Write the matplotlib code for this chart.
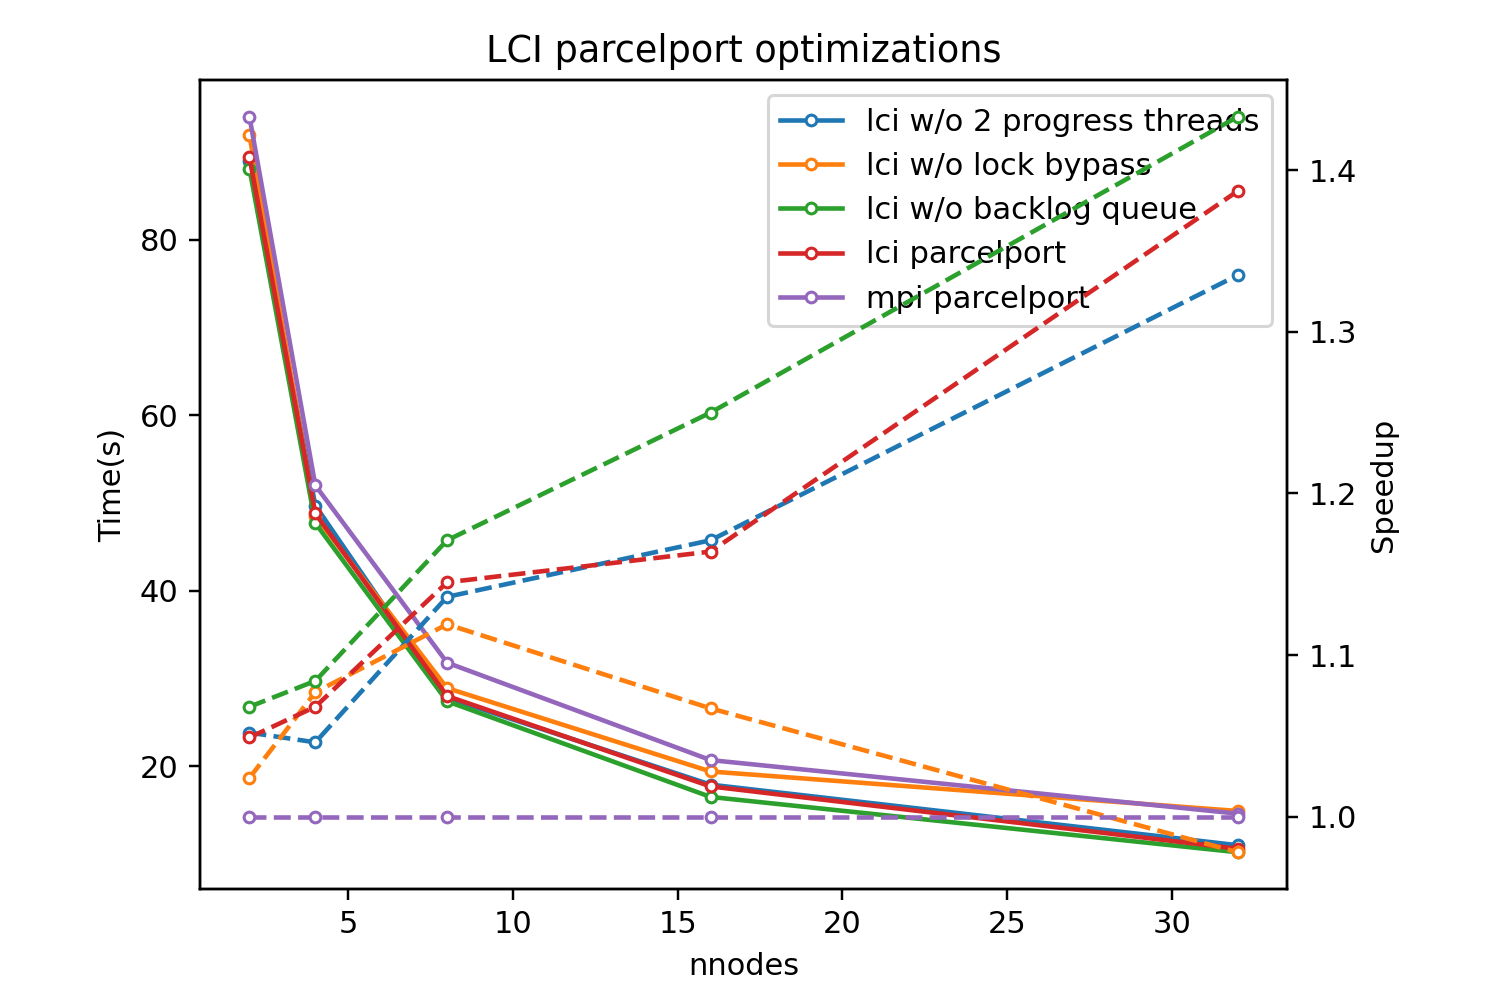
import matplotlib
matplotlib.use('Agg')
import matplotlib.pyplot as plt

nnodes = [2, 4, 8, 16, 32]
labels = ['lci w/o 2 progress threads', 'lci w/o lock bypass',
          'lci w/o backlog queue', 'lci parcelport', 'mpi parcelport']
colors = ['tab:blue', 'tab:orange', 'tab:green', 'tab:red', 'tab:purple']

# time (s)
t_no_progress = [89.0, 49.7, 27.8, 17.9, 11.0]
t_no_bypass = [91.9, 48.5, 28.9, 19.4, 14.9]
t_no_backlog = [88.1, 47.7, 27.4, 16.5, 10.2]
t_lci = [89.4, 48.8, 28.0, 17.7, 10.6]
t_mpi = [94.0, 52.0, 31.8, 20.7, 14.6]

# speedup vs mpi
s_no_progress = [1.052, 1.046, 1.136, 1.171, 1.335]
s_no_bypass = [1.024, 1.077, 1.119, 1.067, 0.978]
s_no_backlog = [1.068, 1.084, 1.171, 1.250, 1.433]
s_lci = [1.049, 1.068, 1.145, 1.164, 1.387]
s_mpi = [1.0, 1.0, 1.0, 1.0, 1.0]

times = [t_no_progress, t_no_bypass, t_no_backlog, t_lci, t_mpi]
speedups = [s_no_progress, s_no_bypass, s_no_backlog, s_lci, s_mpi]

fig = plt.figure(figsize=(1493/220, 982/220), dpi=220)
ax = fig.add_axes([0.134, 0.0947, 0.728, 0.8238])
for t, c, lab in zip(times, colors, labels):
    ax.plot(nnodes, t, '-o', color=c, label=lab, markersize=3.5, markerfacecolor='white')
ax.set_xlabel('nnodes')
ax.set_ylabel('Time(s)')
ax.set_title('LCI parcelport optimizations')
ax.legend(loc='upper right')

ax2 = ax.twinx()
for s, c in zip(speedups, colors):
    ax2.plot(nnodes, s, '--o', color=c, markersize=3.5, markerfacecolor='white')
ax2.set_ylabel('Speedup')

fig.savefig('out.png', dpi=220)
